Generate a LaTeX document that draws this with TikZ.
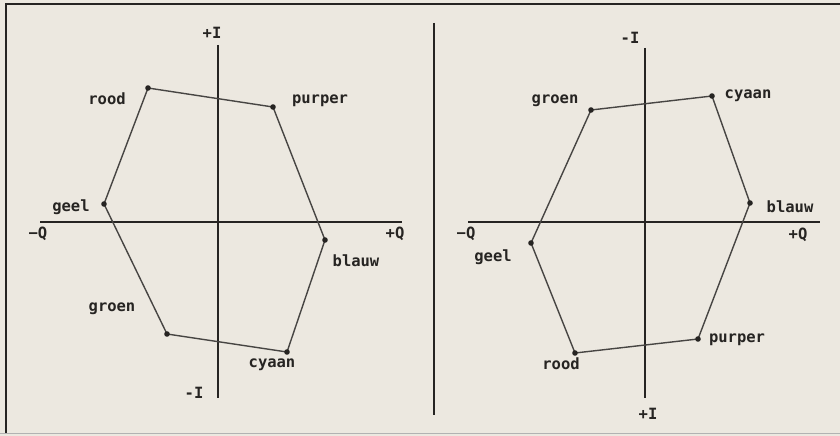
\documentclass[tikz,border=0pt]{standalone}
\usepackage{fontspec}
\setmonofont{DejaVu Sans Mono}
\definecolor{paper}{HTML}{ECE8E0}
\definecolor{ink}{HTML}{262422}
\tikzset{
  lbl/.style={font=\ttfamily\bfseries\fontsize{15.5}{16}\selectfont, text=ink, inner sep=0pt},
  axis/.style={line width=1.7pt, draw=ink},
  hexline/.style={line width=1.4pt, draw=ink!85},
}
\begin{document}
\begin{tikzpicture}[x=1pt, y=-1pt]
    \fill[paper] (0,0) rectangle (840,436);
    \useasboundingbox (0,0) rectangle (840,436);

    % frame and divider
    \draw[line width=2.6pt, ink] (6,433) -- (6,4) -- (840,4);
    \draw[line width=0.6pt, black!30] (0,433.5) -- (840,433.5);
    \draw[line width=1.8pt, ink] (434,23) -- (434,415);

    % left diagram: axes
    \coordinate (Lqm) at (40,222);
    \coordinate (Lqp) at (402,222);
    \coordinate (Lip) at (218,45);
    \coordinate (Lim) at (218,398);
    \draw[axis] (Lqm) -- (Lqp);
    \draw[axis] (Lip) -- (Lim);
    \node[lbl] (Lqm-t) at (38,234) {−Q};
    \node[lbl] (Lqp-t) at (395,234) {+Q};
    \node[lbl] (Lip-t) at (212,33) {+I};
    \node[lbl] (Lim-t) at (194,393) {-I};

    % left diagram: hexagon
    \foreach \n/\x/\y in {rood/148/88, purper/273/107, blauw/325/240,
                          cyaan/287/352, groen/167/334, geel/104/204} {
      \coordinate (L\n) at (\x,\y);
    }
    \draw[hexline] (Lrood) -- (Lpurper) -- (Lblauw) -- (Lcyaan)
                   -- (Lgroen) -- (Lgeel) -- cycle;
    \foreach \n in {rood, purper, blauw, cyaan, groen, geel}
      \fill[ink] (L\n) circle (2.8pt);
    \node[lbl] (Lrood-t)   at (107,99)  {rood};
    \node[lbl] (Lpurper-t) at (320,101) {purper};
    \node[lbl] (Lblauw-t)  at (356,261) {blauw};
    \node[lbl] (Lcyaan-t)  at (272,365) {cyaan};
    \node[lbl] (Lgroen-t)  at (112,309) {groen};
    \node[lbl] (Lgeel-t)   at (71,207)  {geel};

    % right diagram: axes
    \coordinate (Rqm) at (468,222);
    \coordinate (Rqp) at (820,222);
    \coordinate (Rim) at (645,48);
    \coordinate (Rip) at (645,398);
    \draw[axis] (Rqm) -- (Rqp);
    \draw[axis] (Rim) -- (Rip);
    \node[lbl] (Rqm-t) at (466,234) {−Q};
    \node[lbl] (Rqp-t) at (798,235) {+Q};
    \node[lbl] (Rim-t) at (630,38)  {-I};
    \node[lbl] (Rip-t) at (648,414) {+I};

    % right diagram: hexagon
    \foreach \n/\x/\y in {groen/591/110, cyaan/712/96, blauw/750/203,
                          purper/698/339, rood/575/353, geel/531/243} {
      \coordinate (R\n) at (\x,\y);
    }
    \draw[hexline] (Rgroen) -- (Rcyaan) -- (Rblauw) -- (Rpurper)
                   -- (Rrood) -- (Rgeel) -- cycle;
    \foreach \n in {groen, cyaan, blauw, purper, rood, geel}
      \fill[ink] (R\n) circle (2.8pt);
    \node[lbl] (Rgroen-t)  at (555,101) {groen};
    \node[lbl] (Rcyaan-t)  at (748,96)  {cyaan};
    \node[lbl] (Rblauw-t)  at (790,207) {blauw};
    \node[lbl] (Rpurper-t) at (737,340) {purper};
    \node[lbl] (Rrood-t)   at (561,364) {rood};
    \node[lbl] (Rgeel-t)   at (493,257) {geel};
\end{tikzpicture}
\end{document}
